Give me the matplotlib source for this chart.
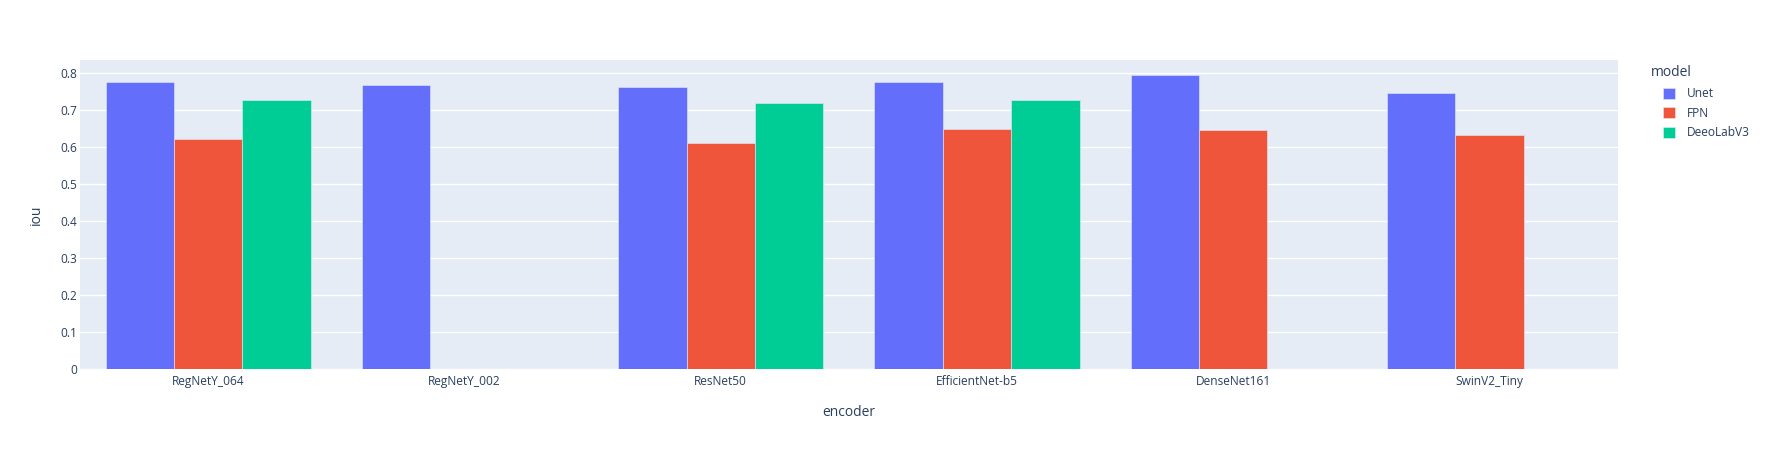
import numpy as np
import matplotlib.pyplot as plt
from matplotlib.patches import Patch

plt.rcParams['font.family'] = ['Open Sans', 'DejaVu Sans']

encoders = ['RegNetY_064', 'RegNetY_002', 'ResNet50', 'EfficientNet-b5', 'DenseNet161', 'SwinV2_Tiny']
models = ['Unet', 'FPN', 'DeeoLabV3']
unet_iou = [0.776, 0.766, 0.761, 0.774, 0.793, 0.746]
fpn_iou = [0.621, np.nan, 0.610, 0.647, 0.644, 0.631]
deeplab_iou = [0.726, np.nan, 0.719, 0.726, np.nan, np.nan]
colors = ['#636efa', '#EF553B', '#00cc96']
yticks = [0, 0.1, 0.2, 0.3, 0.4, 0.5, 0.6, 0.7, 0.8]

text_col = '#2a3f5f'

fig = plt.figure(figsize=(17.7, 4.5), dpi=100)
ax = fig.add_axes([80 / 1770, 1 - 369.3 / 450, 1537.7 / 1770, 309.3 / 450])
ax.set_facecolor('#E5ECF6')

x = np.arange(len(encoders))
w = 0.8 / 3
for i, (vals, c) in enumerate(zip([unet_iou, fpn_iou, deeplab_iou], colors)):
    ax.bar(x + (i - 1) * w, vals, width=w, color=c, edgecolor='#E5ECF6',
           linewidth=0.4, zorder=3)

ax.set_xlim(-0.5, len(encoders) - 0.5)
ax.set_ylim(0, 0.834)
ax.set_yticks(yticks)
ax.set_yticklabels(['0' if v == 0 else f'{v:g}' for v in yticks])
ax.set_xticks(x)
ax.set_xticklabels(encoders)
ax.grid(axis='y', color='white', linewidth=1, zorder=0)
ax.set_axisbelow(True)
for s in ax.spines.values():
    s.set_visible(False)
ax.tick_params(axis='both', length=0, labelsize=8.6, labelcolor=text_col)
ax.tick_params(axis='y', pad=2)
ax.tick_params(axis='x', pad=4)
ax.set_xlabel('encoder', fontsize=10, color=text_col, labelpad=12)
ax.set_ylabel('iou', fontsize=10, color=text_col, labelpad=12)

# legend, title drawn separately so the entries sit indented like plotly
fig.text(1651 / 1770, 1 - 73 / 450, 'model', fontsize=10, color=text_col,
         ha='left', va='center')
handles = [Patch(facecolor=c, edgecolor='#E5ECF6', linewidth=0.4) for c in colors]
leg = fig.legend(handles, models, loc='upper left',
                 bbox_to_anchor=(1655 / 1770, 1 - 79 / 450), frameon=False,
                 fontsize=8.6, handlelength=1.0, handleheight=1.0,
                 handletextpad=1.0, labelspacing=0.55, borderpad=0.2)
for t in leg.get_texts():
    t.set_color(text_col)

fig.savefig('out.png', dpi=100)
